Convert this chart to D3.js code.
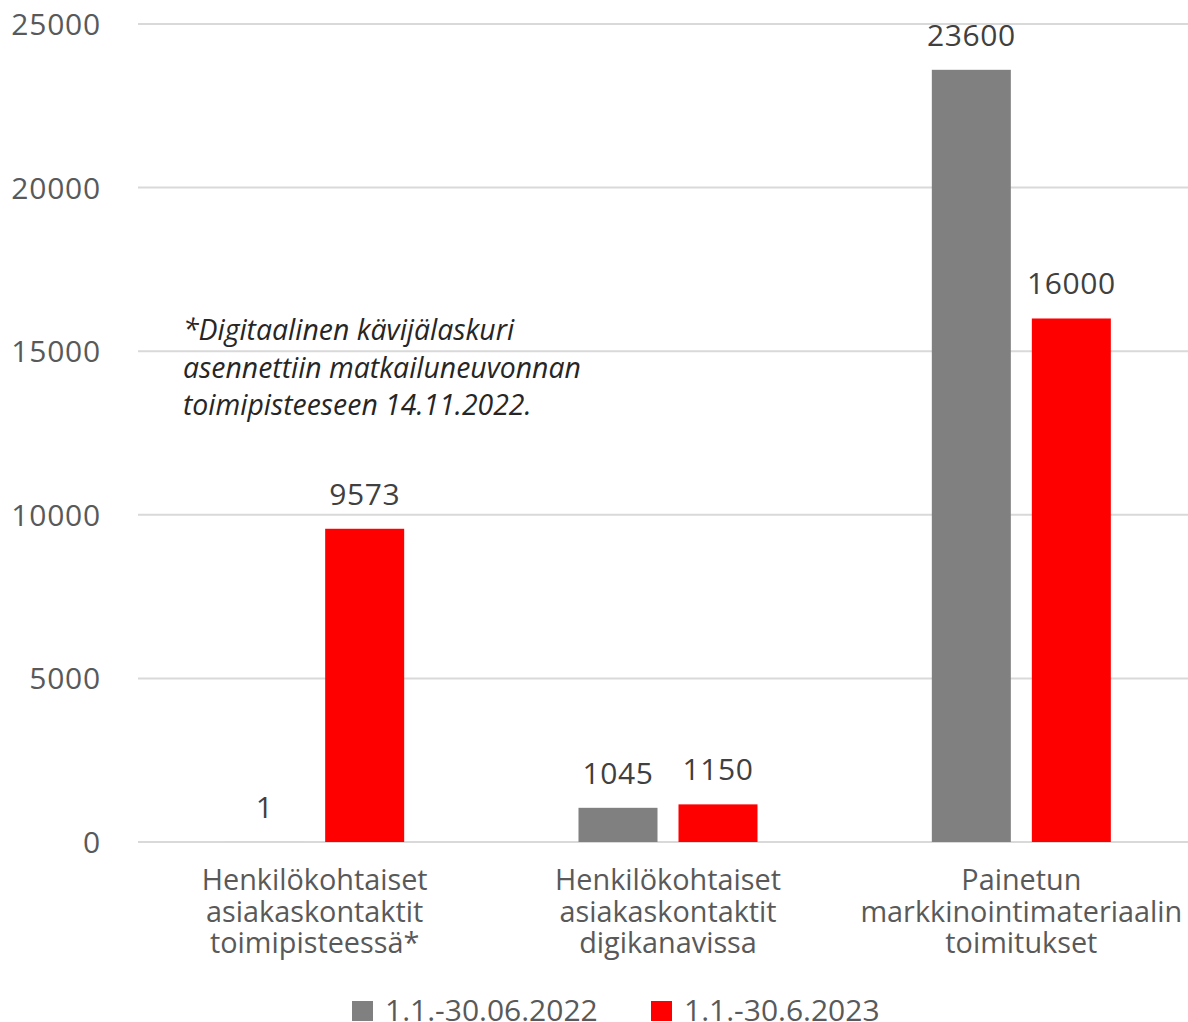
<!DOCTYPE html>
<html><head><meta charset="utf-8">
<script src="https://cdn.jsdelivr.net/npm/d3@7"></script>
<style>body{margin:0;background:#fff}svg{display:block;font-family:"Open Sans",sans-serif}</style>
</head><body><svg id="c" width="1188" height="1022"></svg>
<script>
const categories = [
  ["Henkilökohtaiset","asiakaskontaktit","toimipisteessä*"],
  ["Henkilökohtaiset","asiakaskontaktit","digikanavissa"],
  ["Painetun","markkinointimateriaalin","toimitukset"]
];
const seriesNames = ["1.1.-30.06.2022","1.1.-30.6.2023"];
const values2022 = [1, 1045, 23600];
const values2023 = [9573, 1150, 16000];
const yTicks = [0,5000,10000,15000,20000,25000];
const noteLines = ["*Digitaalinen kävijälaskuri","asennettiin matkailuneuvonnan","toimipisteeseen 14.11.2022."];
const colors = ["#808080","#ff0000"];

const svg = d3.select("#c");
const y = d3.scaleLinear().domain([0,25000]).range([842,24]);
const x0 = d3.scaleBand().domain(d3.range(categories.length)).range([138,1198]).padding(0);
const x1 = d3.scaleBand().domain([0,1]).range([0,x0.bandwidth()]).paddingInner(0.21).paddingOuter(0.8715);

// grid
svg.append("g").selectAll("line").data(yTicks).join("line")
  .attr("x1",138).attr("x2",1188).attr("y1",d=>y(d)).attr("y2",d=>y(d))
  .attr("stroke","#d9d9d9").attr("stroke-width",2);
// y labels
svg.append("g").selectAll("text").data(yTicks).join("text")
  .attr("x",101).attr("y",d=>y(d)+11).attr("text-anchor","end")
  .attr("font-size",30).attr("letter-spacing",0.8).attr("fill","#595959").text(d=>d);

const data = categories.map((c,i)=>({i, vals:[values2022[i], values2023[i]]}));
const g = svg.append("g").selectAll("g").data(data).join("g")
  .attr("transform",d=>`translate(${x0(d.i)},0)`);
g.selectAll("rect").data(d=>d.vals.map((v,k)=>({v,k}))).join("rect")
  .attr("x",d=>x1(d.k)).attr("width",x1.bandwidth())
  .attr("y",d=>y(d.v)).attr("height",d=>y(0)-y(d.v)).attr("fill",d=>colors[d.k]);
g.selectAll("text.lab").data(d=>d.vals.map((v,k)=>({v,k}))).join("text").attr("class","lab")
  .attr("x",d=>x1(d.k)+x1.bandwidth()/2).attr("y",d=>y(d.v)-24)
  .attr("text-anchor","middle").attr("font-size",30).attr("letter-spacing",0.6).attr("fill","#404040").text(d=>d.v);

// category labels
svg.append("g").selectAll("text").data(categories).join("text")
  .attr("text-anchor","middle").attr("font-size",28.8).attr("fill","#595959")
  .attr("transform",(d,i)=>`translate(${x0(i)+x0.bandwidth()/2},890)`)
  .selectAll("tspan").data(d=>d).join("tspan")
  .attr("x",0).attr("y",(d,k)=>k*31.5).text(d=>d);

// note
svg.append("text").attr("font-size",28.4).attr("font-style","italic").attr("fill","#262626")
  .selectAll("tspan").data(noteLines).join("tspan")
  .attr("x",183).attr("y",(d,k)=>340+k*37.5).text(d=>d);

// legend
const legX = [352, 651];
const lg = svg.append("g").selectAll("g").data(seriesNames).join("g")
  .attr("transform",(d,i)=>`translate(${legX[i]},1001)`);
lg.append("rect").attr("width",21).attr("height",20).attr("fill",(d,i)=>colors[i]);
lg.append("text").attr("x",33).attr("y",20).attr("font-size",30).attr("fill","#595959").text(d=>d);
</script></body></html>
